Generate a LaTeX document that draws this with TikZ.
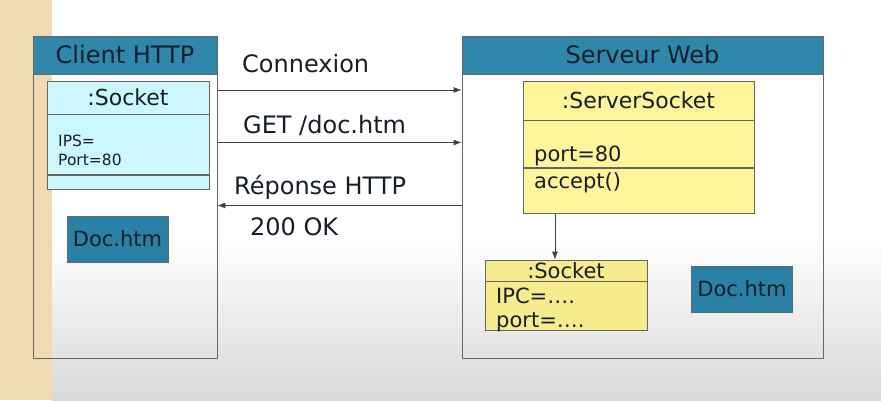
\documentclass[tikz,border=0pt]{standalone}
\usepackage{fontspec}
\setmainfont{DejaVu Sans}
\usetikzlibrary{arrows.meta,positioning}
\definecolor{headblue}{RGB}{47,135,171}
\definecolor{docblue}{RGB}{41,130,165}
\definecolor{sockcyan}{RGB}{204,247,253}
\definecolor{sockyellow}{RGB}{255,245,155}
\definecolor{paleyellow}{RGB}{246,236,142}
\definecolor{sand}{RGB}{239,218,180}
\definecolor{ink}{RGB}{22,30,40}

\begin{document}
\begin{tikzpicture}[
  x=1pt,y=-1pt,
  frame/.style={
    draw=black!60,
    line width=.8pt,
    inner sep=0pt
  },
  head/.style={
    frame,
    fill=headblue,
    text=ink,
    font=\fontsize{24}{28}\selectfont
  },
  obj/.style={
    frame,
    text=ink,
    font=\fontsize{22}{26}\selectfont
  },
  doc/.style={
    frame,
    fill=docblue,
    text=ink,
    minimum width=101,
    minimum height=46,
    font=\fontsize{21}{25}\selectfont
  },
  attr/.style={anchor=base west,inner sep=0pt,text=ink,font=\fontsize{21}{25}\selectfont},
  lbl/.style={anchor=base west,inner sep=0pt,text=ink,font=\fontsize{24}{28}\selectfont},
  msg/.style={-{Latex[length=8pt,width=6pt]},draw=black!75,line width=.8pt}
]
\useasboundingbox (0,0) rectangle (881,400);
% background
\fill[white] (0,0) rectangle (881,400);
\shade[top color=white,bottom color=black!15] (52,235) rectangle (881,400);
\fill[sand] (0,0) rectangle (52,400);

% client side
\node[frame,minimum width=184,minimum height=322] (client) at (125,197) {};
\node[head,minimum width=184,minimum height=38] (clienthead) at (125,55) {Client HTTP};
\node[obj,fill=sockcyan,minimum width=162,minimum height=33]
  (csockname) at (128,97.5) {:Socket};
\node[obj,fill=sockcyan,minimum width=162,minimum height=60,below=0pt of csockname]
  (csockattr) {};
\node[obj,fill=sockcyan,minimum width=162,minimum height=14,below=0pt of csockattr]
  (csockops) {};
\node[attr,font=\fontsize{15.5}{19}\selectfont] (ips) at (58,146) {IPS=};
\node[attr,font=\fontsize{15.5}{19}\selectfont] (cport) at (58,165) {Port=80};
\node[doc] (cdoc) at (117.5,239) {Doc.htm};

% server side
\node[frame,minimum width=361,minimum height=322] (server) at (642.5,197) {};
\node[head,minimum width=361,minimum height=38] (serverhead) at (642.5,55) {Serveur Web};
\node[obj,fill=sockyellow,minimum width=231,minimum height=39]
  (ssockname) at (638.5,100.5) {:ServerSocket};
\node[obj,fill=sockyellow,minimum width=231,minimum height=47,below=0pt of ssockname]
  (ssockattr) {};
\node[obj,fill=sockyellow,minimum width=231,minimum height=45,below=0pt of ssockattr]
  (ssockops) {};
\node[attr] (sport) at (534,161) {port=80};
\node[attr] (accept) at (534,188) {accept()};

\node[obj,fill=paleyellow,minimum width=162,minimum height=21,font=\fontsize{21}{25}\selectfont]
  (sockname) at (566,270.5) {:Socket};
\node[obj,fill=paleyellow,minimum width=162,minimum height=49,below=0pt of sockname]
  (sockattr) {};
\node[attr] (ipc) at (496,303) {IPC=\dots.};
\node[attr] (dport) at (496,327) {port=\dots.};
\node[doc] (sdoc) at (742,289) {Doc.htm};

% messages
\draw[msg] (client.east |- 0,90) -- (server.west |- 0,90);
\draw[msg] (client.east |- 0,142.5) -- (server.west |- 0,142.5);
\draw[msg] (server.west |- 0,205.5) -- (client.east |- 0,205.5);
\node[lbl] (connexion) at (242,72) {Connexion};
\node[lbl] (get) at (243,133) {GET /doc.htm};
\node[lbl] (reponse) at (234,194) {Réponse HTTP};
\node[lbl] (ok) at (250,235) {200 OK};

\draw[msg] ([xshift=-83.5pt]ssockops.south)
  -- ([xshift=-83.5pt]ssockops.south |- sockname.north);
\end{tikzpicture}
\end{document}
